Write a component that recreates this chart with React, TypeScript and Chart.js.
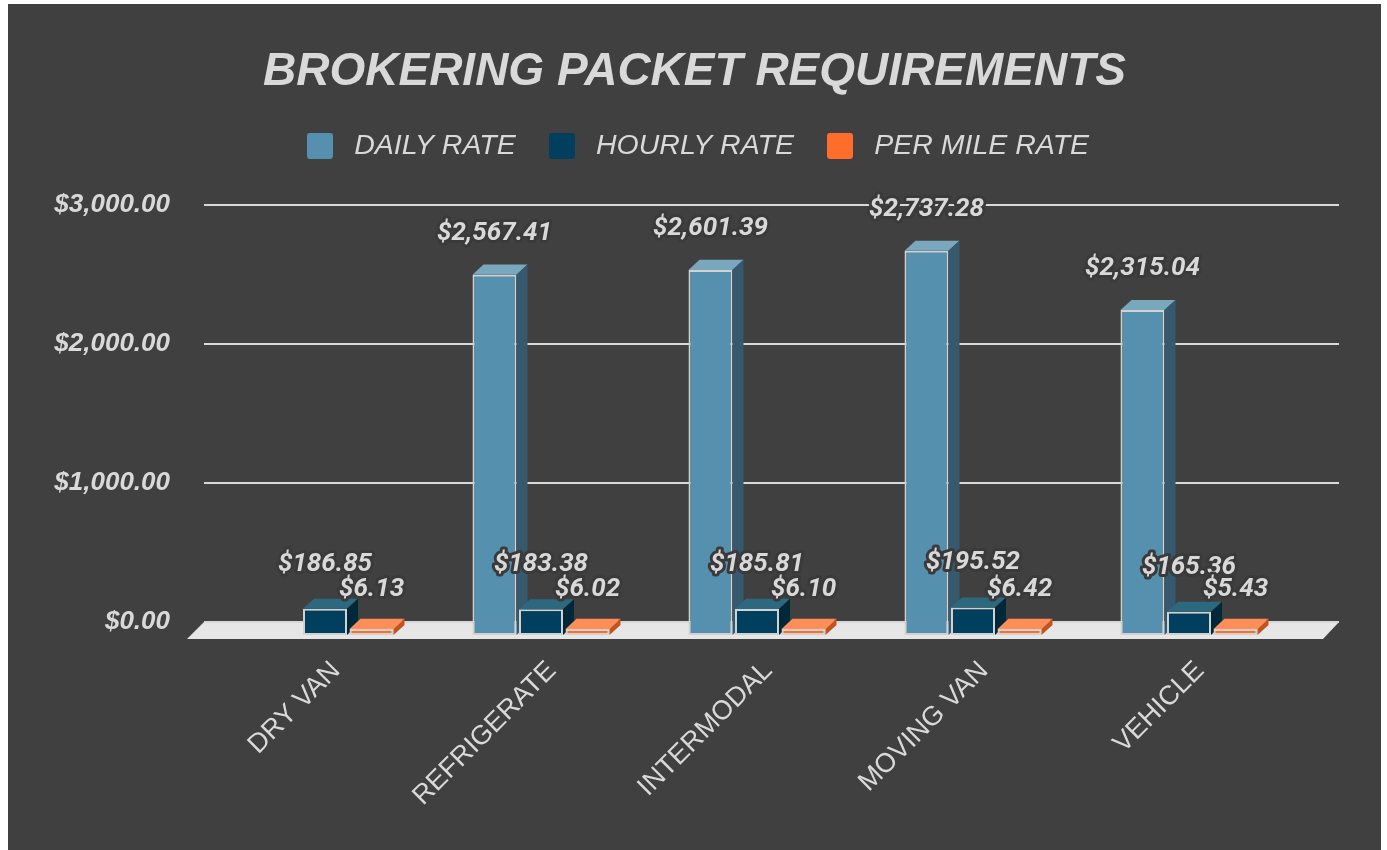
import React, { useEffect, useRef } from 'react';
import { Chart, registerables } from 'chart.js';

Chart.register(...registerables);

const CATEGORIES = ['DRY VAN', 'REFRIGERATE', 'INTERMODAL', 'MOVING VAN', 'VEHICLE'];
const SERIES_NAMES = ['DAILY RATE', 'HOURLY RATE', 'PER MILE RATE'];
const DAILY_RATE = [null, 2567.41, 2601.39, 2737.28, 2315.04];
const HOURLY_RATE = [186.85, 183.38, 185.81, 195.52, 165.36];
const PER_MILE_RATE = [6.13, 6.02, 6.1, 6.42, 5.43];
const Y_TICKS = [0, 1000, 2000, 3000];

const BG = '#404040';
const TEXT = '#d9d9d9';
const GRID = '#d9d9d9';
const FLOOR = '#e6e6e6';
const BAR_BORDER = '#d2d2d2';
const FRONT = ['#5591ae', '#00405e', '#ff6d2b'];
const TOP = ['#78a7be', '#2d697e', '#ff8d57'];
const SIDE = ['#37596d', '#002838', '#c4521f'];

// 3D geometry (pixels)
const DX = 11;
const DY = 10;
const FX = -11;
const FY = 13;
const PERSPECTIVE = 1.01;

const money = (v: number) =>
  '$' + v.toLocaleString('en-US', { minimumFractionDigits: 2, maximumFractionDigits: 2 });

function swatch(color: string) {
  const c = document.createElement('canvas');
  c.width = 26;
  c.height = 26;
  const g = c.getContext('2d')!;
  g.fillStyle = color;
  g.beginPath();
  (g as any).roundRect ? (g as any).roundRect(0, 0, 26, 26, 3) : g.rect(0, 0, 26, 26);
  g.fill();
  return c;
}

const threeD = {
  id: 'threeD',
  beforeDatasetsDraw(chart: any) {
    const { ctx, chartArea, scales } = chart;
    const y = scales.y;
    const left = chartArea.left - 24;
    const right = chartArea.right + 31;
    const y0 = y.getPixelForValue(0);
    ctx.save();
    ctx.fillStyle = FLOOR;
    ctx.beginPath();
    ctx.moveTo(left, y0);
    ctx.lineTo(right, y0);
    ctx.lineTo(right - 16, y0 + 17);
    ctx.lineTo(left - 17, y0 + 17);
    ctx.closePath();
    ctx.fill();
    ctx.strokeStyle = GRID;
    ctx.lineWidth = 2;
    y.ticks.forEach((t: any) => {
      const py = Math.round(y.getPixelForValue(t.value));
      ctx.beginPath();
      ctx.moveTo(left, py);
      ctx.lineTo(right, py);
      ctx.stroke();
    });
    ctx.restore();
  },
  beforeDatasetDraw() {
    return false;
  },
  afterDatasetsDraw(chart: any) {
    const { ctx } = chart;
    const yScale = chart.scales.y;
    const y0 = yScale.getPixelForValue(0);
    const n = chart.data.labels.length;
    ctx.save();
    ctx.transform(1, 0, 0, PERSPECTIVE, FX, FY - y0 * (PERSPECTIVE - 1));
    for (let i = 0; i < n; i++) {
      chart.data.datasets.forEach((ds: any, d: number) => {
        const el = chart.getDatasetMeta(d).data[i];
        if (!el || ds.data[i] == null) return;
        const { x, y, base, width } = el;
        el.draw(ctx, chart.chartArea);
        const l = x - width / 2;
        const r = x + width / 2;
        ctx.fillStyle = TOP[d];
        ctx.beginPath();
        ctx.moveTo(l, y);
        ctx.lineTo(l + DX, y - DY);
        ctx.lineTo(r + DX, y - DY);
        ctx.lineTo(r, y);
        ctx.closePath();
        ctx.fill();
        ctx.fillStyle = SIDE[d];
        ctx.beginPath();
        ctx.moveTo(r, y);
        ctx.lineTo(r + DX, y - DY);
        ctx.lineTo(r + DX, base - DY);
        ctx.lineTo(r, base);
        ctx.closePath();
        ctx.fill();
      });
    }
    ctx.restore();

    // data labels
    ctx.save();
    ctx.font = 'italic bold 26px Roboto';
    ctx.textAlign = 'center';
    ctx.textBaseline = 'middle';
    ctx.lineJoin = 'round';
    chart.data.datasets.forEach((ds: any, d: number) => {
      const meta = chart.getDatasetMeta(d);
      ds.data.forEach((v: number | null, i: number) => {
        if (v == null) return;
        const el = meta.data[i];
        const lx = el.x + FX;
        const ly = yScale.getPixelForValue(v) - 32;
        const s = money(v);
        ctx.strokeStyle = '#3a3a3a';
        ctx.lineWidth = 6;
        ctx.strokeText(s, lx, ly);
        ctx.fillStyle = TEXT;
        ctx.fillText(s, lx, ly);
      });
    });
    ctx.restore();
  },
};

export default function App() {
  const ref = useRef<HTMLCanvasElement | null>(null);

  useEffect(() => {
    if (!ref.current) return;
    const swatches = FRONT.map(swatch);
    const seriesData = [DAILY_RATE, HOURLY_RATE, PER_MILE_RATE];
    const chart = new Chart(ref.current, {
      type: 'bar',
      data: {
        labels: CATEGORIES,
        datasets: SERIES_NAMES.map((name, d) => ({
          label: name,
          data: seriesData[d] as any,
          backgroundColor: FRONT[d],
          borderColor: BAR_BORDER,
          borderWidth: 2,
          borderSkipped: false,
          categoryPercentage: 0.646,
          barPercentage: 0.946,
          minBarLength: d === 2 ? 6 : 0,
        })),
      },
      options: {
        responsive: true,
        maintainAspectRatio: false,
        animation: false,
        events: [],
        layout: { padding: 0 },
        plugins: {
          tooltip: { enabled: false },
          title: {
            display: true,
            text: 'BROKERING PACKET REQUIREMENTS',
            color: TEXT,
            font: { family: 'Liberation Sans', size: 46, weight: 'bold', style: 'italic', lineHeight: 1.1 },
            padding: { top: 43, bottom: 8 },
          },
          subtitle: {
            display: true,
            text: '',
            weight: 500,
            font: { size: 10, lineHeight: 1 },
            padding: { top: 0, bottom: 25 },
          },
          legend: {
            display: true,
            position: 'top',
            labels: {
              color: TEXT,
              font: { family: 'Liberation Sans', size: 28.5, style: 'italic' },
              usePointStyle: true,
              pointStyleWidth: 40,
              boxHeight: 26,
              padding: 26,
              generateLabels: (c: any) => {
                const items = (Chart.defaults as any).plugins.legend.labels.generateLabels(c);
                return items.map((it: any, k: number) => ({ ...it, pointStyle: swatches[k] }));
              },
            },
          },
        },
        scales: {
          x: {
            grid: { display: false, drawTicks: false },
            border: { display: false },
            ticks: {
              color: TEXT,
              font: { family: 'Liberation Sans', size: 27 },
              minRotation: 45,
              maxRotation: 45,
              autoSkip: false,
              padding: 33,
            },
            afterFit: (s: any) => {
              s.height = 228;
            },
          },
          y: {
            min: 0,
            max: 3000,
            grid: { display: false, drawTicks: false },
            border: { display: false },
            afterBuildTicks: (s: any) => {
              s.ticks = Y_TICKS.map((v) => ({ value: v }));
            },
            ticks: {
              color: TEXT,
              font: { family: 'Liberation Sans', size: 26, weight: 'bold', style: 'italic' },
              padding: 58,
              callback: (v: any) => money(Number(v)),
            },
            afterFit: (s: any) => {
              s.width = 220;
            },
          },
          yRight: {
            type: 'linear',
            position: 'right',
            display: true,
            grid: { display: false, drawTicks: false },
            border: { display: false },
            ticks: { display: false },
            afterFit: (s: any) => {
              s.width = 73;
            },
          },
        },
      } as any,
      plugins: [threeD],
    });
    return () => chart.destroy();
  }, []);

  return (
    <div
      style={{
        position: 'absolute',
        left: 8,
        top: 4,
        width: 1373,
        height: 846,
        background: BG,
      }}
    >
      <canvas ref={ref} />
    </div>
  );
}
